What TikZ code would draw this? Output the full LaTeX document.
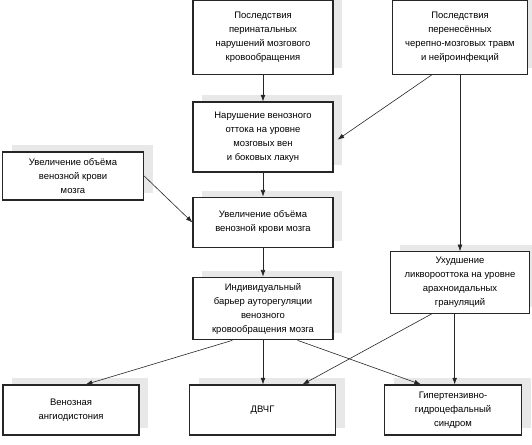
\documentclass[tikz,border=0pt]{standalone}
\usepackage{fontspec}
\setmainfont{Liberation Sans}
\usepackage{tikz}
\usetikzlibrary{arrows.meta,shadows}

\begin{document}
\begin{tikzpicture}[x=0.75pt,y=-0.75pt,
  box/.style={draw=black!85,line width=0.8pt,fill=white,align=center,
    inner sep=2pt,font=\fontsize{7.1}{10.5}\selectfont,
    general shadow={fill=black!9,shadow xshift=7pt,shadow yshift=5pt}},
  arr/.style={-{Latex[length=5pt,width=3.6pt]},line width=0.45pt,black!85}]
  \useasboundingbox (0,0) rectangle (532,444);
  \node[box,minimum width=105pt,minimum height=55pt] (a) at (263,37.5)
    {Последствия\\перинатальных\\нарушений мозгового\\кровообращения};
  \node[box,minimum width=101pt,minimum height=55pt] (b) at (460,37.5)
    {Последствия\\перенесённых\\черепно-мозговых травм\\и нейроинфекций};
  \node[box,minimum width=105pt,minimum height=52.5pt] (c) at (263,137)
    {Нарушение венозного\\оттока на уровне\\мозговых вен\\и боковых лакун};
  \node[box,minimum width=106pt,minimum height=36pt] (d) at (73,176)
    {Увеличение объёма\\венозной крови\\мозга};
  \node[box,minimum width=105pt,minimum height=38pt] (e) at (263,222.5)
    {Увеличение объёма\\венозной крови мозга};
  \node[box,minimum width=105pt,minimum height=47pt] (f) at (263,308.5)
    {Индивидуальный\\барьер ауторегуляции\\венозного\\кровообращения мозга};
  \node[box,minimum width=104pt,minimum height=46pt] (g) at (460,282.5)
    {Ухудшение\\ликворооттока на уровне\\арахноидальных\\грануляций};
  \node[box,minimum width=102pt,minimum height=37.5pt] (h) at (71,410)
    {Венозная\\ангиодистония};
  \node[box,minimum width=109pt,minimum height=37.5pt] (i) at (262.5,410)
    {ДВЧГ};
  \node[box,minimum width=103pt,minimum height=37.5pt] (j) at (453,410)
    {Гипертензивно-\\гидроцефальный\\синдром};
  % arrows
  \draw[arr] (a) -- (c);
  \draw[arr] ([xshift=-21pt]b.south) -- ([xshift=3pt,yshift=-2pt]c.east);
  \draw[arr] (b.south) -- (b.south |- g.north);
  \draw[arr] (c) -- (e);
  \draw[arr] (d.east) -- (e.west);
  \draw[arr] (e) -- (f);
  \draw[arr] ([xshift=-23pt]f.south) -- ([xshift=11pt]h.north);
  \draw[arr] (f.south) -- (f.south |- i.north);
  \draw[arr] ([xshift=26pt]f.south) -- ([xshift=-24pt]j.north);
  \draw[arr] ([xshift=-21pt]g.south) -- ([xshift=30pt]i.north);
  \draw[arr] ([xshift=-4pt]g.south) -- ([xshift=-4pt]g.south |- j.north);
\end{tikzpicture}
\end{document}
